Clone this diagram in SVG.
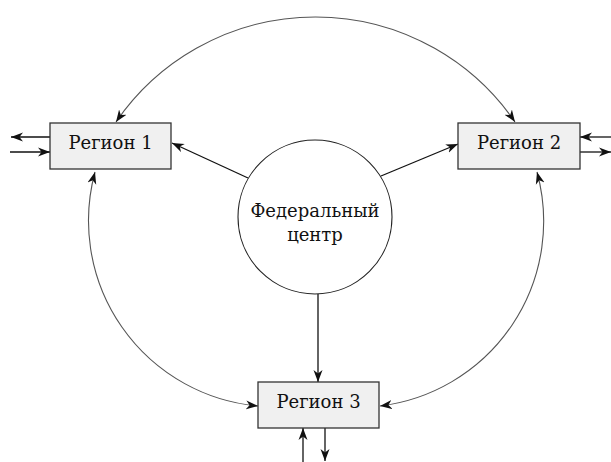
<svg xmlns="http://www.w3.org/2000/svg" width="611" height="462" viewBox="0 0 611 462">
<style>
.box{fill:#f0f0f0;stroke:#333;stroke-width:1.3}
.circ{fill:#fff;stroke:#222;stroke-width:1.1}
.lbl{font-family:"DejaVu Serif",serif;font-size:18px;fill:#111;text-anchor:middle}
.ln{fill:none;stroke:#111;stroke-width:1.3;marker-end:url(#ah)}
.arc{fill:none;stroke:#555;stroke-width:1.1;marker-start:url(#ah);marker-end:url(#ah)}
</style>
<defs>
<marker id="ah" viewBox="0 0 12 10" refX="12" refY="5" markerWidth="12" markerHeight="10" markerUnits="userSpaceOnUse" orient="auto-start-reverse">
<path d="M0,0.5 L12,5 L0,9.5 L3.5,5 z" fill="#111"/>
</marker>
</defs>
<g id="connectors">
<path class="arc" d="M116,122 A242,242 0 0,1 515,122"/>
<path class="arc" d="M95,172 A186,186 0 0,0 258,406"/>
<path class="arc" d="M537,172 A186,186 0 0,1 380,406"/>
<line class="ln" x1="248" y1="178" x2="172" y2="143"/>
<line class="ln" x1="381" y1="176" x2="458" y2="144"/>
<line class="ln" x1="318" y1="294" x2="318" y2="382"/>
<line class="ln" x1="50" y1="137" x2="11" y2="137"/>
<line class="ln" x1="10" y1="152" x2="50" y2="152"/>
<line class="ln" x1="611" y1="137" x2="580" y2="137"/>
<line class="ln" x1="580" y1="152" x2="611" y2="152"/>
<line class="ln" x1="303" y1="462" x2="303" y2="428"/>
<line class="ln" x1="325" y1="428" x2="325" y2="461"/>
</g>
<g id="center">
<circle class="circ" cx="315" cy="217" r="77"/>
<text class="lbl" x="315" y="217">Федеральный</text>
<text class="lbl" x="315" y="241">центр</text>
</g>
<g id="region1">
<rect class="box" x="50" y="123" width="121" height="46"/>
<text class="lbl" x="110.5" y="149">Регион 1</text>
</g>
<g id="region2">
<rect class="box" x="458" y="123" width="122" height="46"/>
<text class="lbl" x="519" y="149">Регион 2</text>
</g>
<g id="region3">
<rect class="box" x="258" y="382" width="121" height="46"/>
<text class="lbl" x="318.5" y="408">Регион 3</text>
</g>
</svg>
